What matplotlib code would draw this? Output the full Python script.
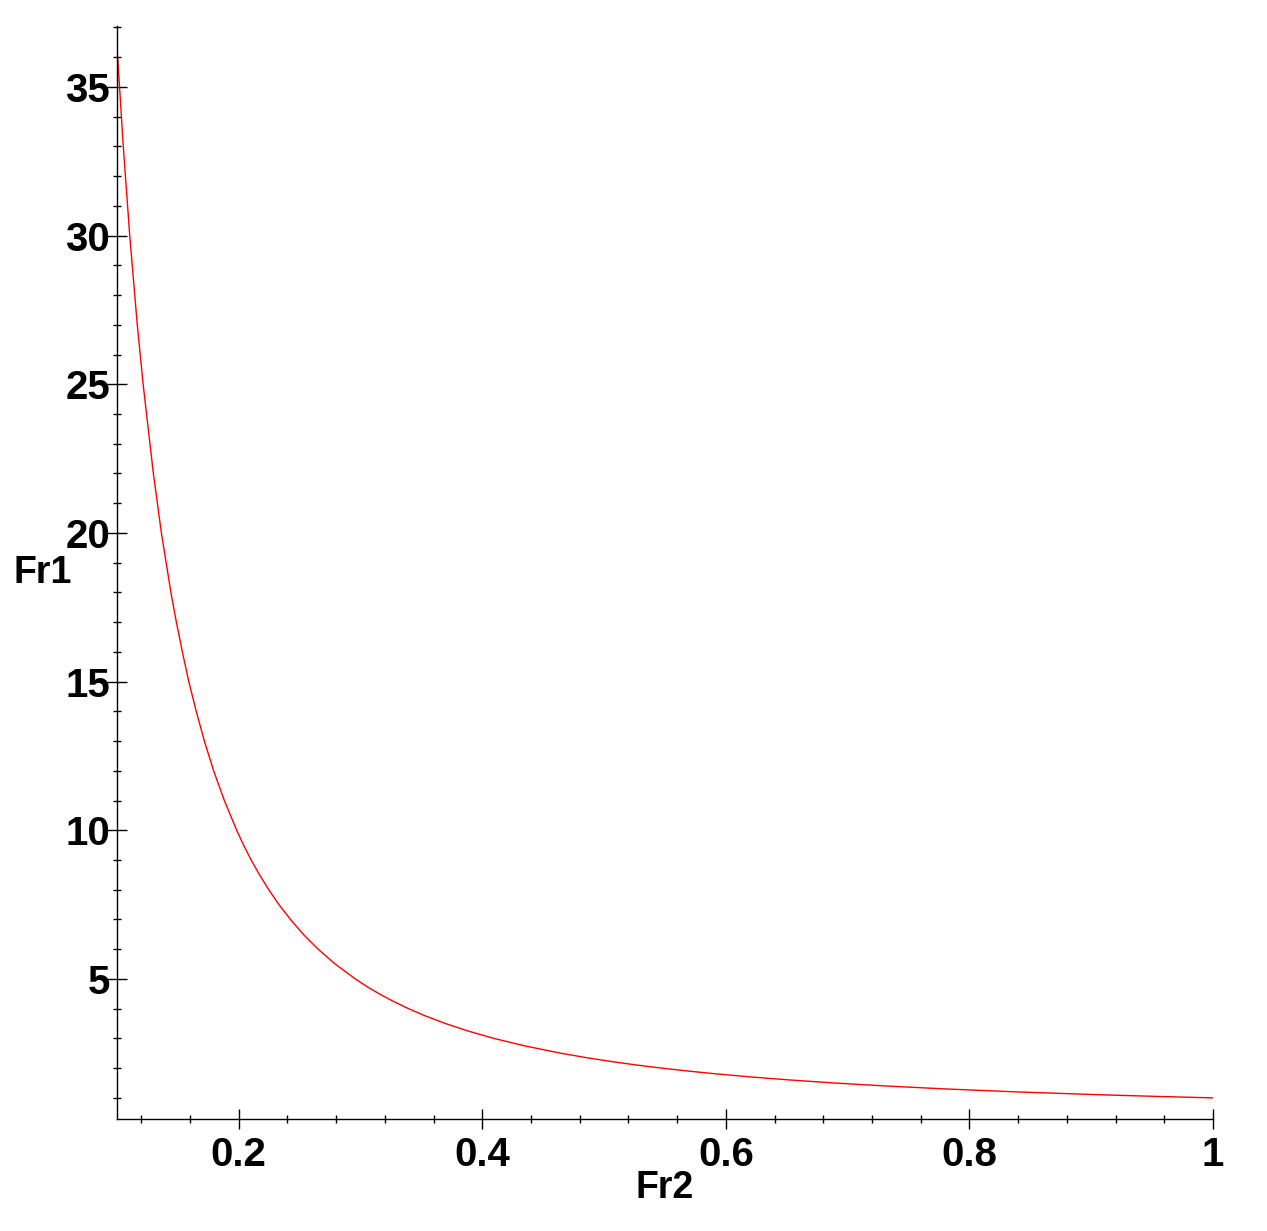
import matplotlib.pyplot as plt
from matplotlib.ticker import MultipleLocator, FixedLocator

# Values (Fr2 on x, Fr1 on y)
fr2 = [0.1006, 0.1052, 0.1105, 0.1167, 0.1215, 0.1299, 0.1365, 0.1443, 0.1488,
       0.1537, 0.1590, 0.1651, 0.1718, 0.1794, 0.1882, 0.1983, 0.2040, 0.2102,
       0.2171, 0.2247, 0.2330, 0.2425, 0.2530, 0.2652, 0.2792, 0.2957, 0.3050,
       0.3153, 0.3267, 0.3394, 0.3536, 0.3697, 0.3881, 0.4095, 0.4346, 0.4646,
       0.4857, 0.5096, 0.5276, 0.5474, 0.5693, 0.5939, 0.6216, 0.6531, 0.6892,
       0.7311, 0.7804, 0.8392, 0.9109, 0.9529, 1.0]
fr1 = [36, 33, 30, 27, 25, 22, 20, 18, 17,
       16, 15, 14, 13, 12, 11, 10, 9.5, 9,
       8.5, 8, 7.5, 7, 6.5, 6, 5.5, 5, 4.75,
       4.5, 4.25, 4, 3.75, 3.5, 3.25, 3, 2.75, 2.5,
       2.35, 2.2, 2.1, 2, 1.9, 1.8, 1.7, 1.6, 1.5,
       1.4, 1.3, 1.2, 1.1, 1.05, 1.0]

x_major = [0.2, 0.4, 0.6, 0.8, 1.0]
x_labels = ["0.2", "0.4", "0.6", "0.8", "1"]
y_major = [5, 10, 15, 20, 25, 30, 35]

plt.rcParams['font.family'] = ['Liberation Sans', 'DejaVu Sans']

fig = plt.figure(figsize=(12.67, 12.31), dpi=100)
ax = fig.add_axes([0.0923, 0.091, 0.8651, 0.8879])

ax.plot(fr2, fr1, color='red', linewidth=1.0)

ax.set_xlim(0.1, 1.0)
ax.set_ylim(0.29, 37.05)

for side in ['top', 'right']:
    ax.spines[side].set_visible(False)
for side in ['left', 'bottom']:
    ax.spines[side].set_linewidth(1.0)

ax.xaxis.set_major_locator(FixedLocator(x_major))
ax.set_xticklabels(x_labels)
ax.xaxis.set_minor_locator(MultipleLocator(0.04))
ax.yaxis.set_major_locator(FixedLocator(y_major))
ax.yaxis.set_minor_locator(MultipleLocator(1))

ax.tick_params(axis='both', which='major', direction='inout', length=14, width=1.0,
               labelsize=29)
ax.tick_params(axis='both', which='minor', direction='inout', length=6, width=1.0)
ax.tick_params(axis='x', which='major', pad=5)
ax.tick_params(axis='y', which='major', pad=-2)
for lbl in ax.get_xticklabels() + ax.get_yticklabels():
    lbl.set_fontweight('bold')

ax.set_xlabel('Fr2', fontsize=27, fontweight='bold')
ax.xaxis.set_label_coords(0.5, -0.047)
ax.set_ylabel('Fr1', fontsize=27, fontweight='bold', rotation=0, va='center', ha='center')
ax.yaxis.set_label_coords(-0.068, 0.4995)

fig.savefig('out.png', dpi=100)
